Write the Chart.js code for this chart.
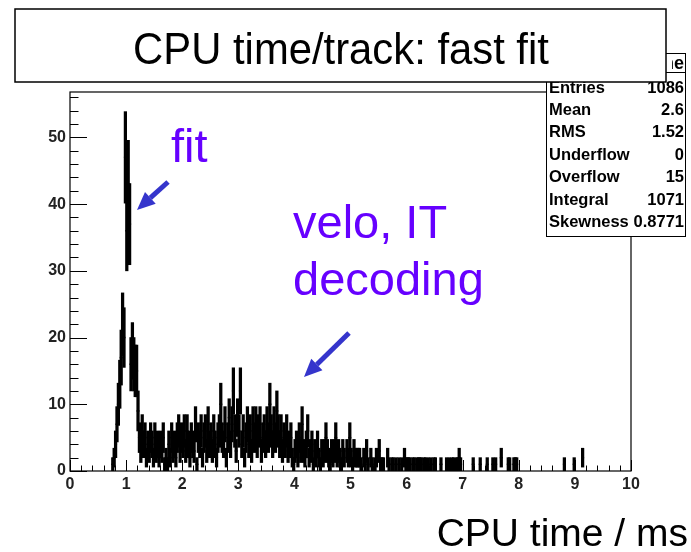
<!DOCTYPE html>
<html>
<head>
<meta charset="utf-8">
<script src="https://cdn.jsdelivr.net/npm/chart.js@4.4.1/dist/chart.umd.min.js"></script>
<style>
  html, body { margin: 0; padding: 0; background: #fff; }
</style>
</head>
<body>
<canvas id="myChart" width="691" height="552"></canvas>
<script>
// CPU time per track, 400 bins of 0.025 ms from 0 to 10 ms (counts per bin)
const binWidth = 0.025;
const counts0to1 = [0,0,0,0,0,0,0,0,0,0, 0,0,0,0,0,0,0,0,0,0, 0,0,0,0,0,0,0,0,0,0, 1,2,4,7,10,13,17,22,20,47];
const counts1to2 = [36,43,37,16,18,16,15,15,9,5, 3,6,4,5,2,4,3,5,4,2, 5,3,4,2,4,3,5,1,2,1, 4,2,5,3,4,2,5,6,3,5];
const counts2to3 = [4,6,3,6,4,2,5,4,3,7, 1,5,4,6,2,5,6,3,7,4, 5,3,6,4,2,5,6,10,5,4, 7,2,5,8,4,7,12,6,3,8];
const counts3to4 = [6,12,4,6,2,5,7,4,6,3, 7,5,7,4,6,7,3,5,6,4, 7,5,10,6,4,7,5,9,6,4, 6,3,5,4,6,3,4,5,2,1];
const counts4to5 = [3,4,2,5,3,7,3,2,4,6, 2,3,4,1,3,2,4,2,1,3, 2,3,5,3,2,1,3,2,3,5, 2,3,2,1,3,2,0,3,2,5];
const counts5to6 = [2,1,3,2,2,2,2,1,0,2, 1,3,1,0,2,1,0,1,2,0, 3,1,1,1,0,0,2,1,0,1, 1,0,1,0,1,0,1,0,2,1];
const counts6to7 = [1,1,1,0,1,1,0,1,1,1, 1,0,1,1,0,1,0,1,0,1, 1,0,0,0,1,0,0,0,1,0, 1,0,1,1,0,1,1,2,1,0];
const counts7to8 = [0,0,0,0,0,0,0,1,0,0, 0,0,1,0,0,0,0,1,0,0, 0,1,0,1,0,0,0,2,0,0, 0,0,1,1,0,0,1,1,1,0];
const counts8to9 = [0,0,0,0,0,0,0,0,0,0, 0,0,0,0,0,0,0,0,0,0, 0,0,0,0,0,0,0,0,0,0, 0,0,1,0,0,0,0,0,0,1];
const counts9to10 = [0,0,0,0,0,2,0,0,0,0, 0,0,0,0,0,0,0,0,0,0, 0,0,0,0,0,0,0,0,0,0, 0,0,0,0,0,0,0,0,0,0];

const xTicks = [0, 1, 2, 3, 4, 5, 6, 7, 8, 9, 10];
const yTicks = [0, 10, 20, 30, 40, 50];
const yMax = 56.8;

const statNames = ['Entries', 'Mean', 'RMS', 'Underflow', 'Overflow', 'Integral', 'Skewness'];
const statValues = ['1086', '2.6', '1.52', '0', '15', '1071', '0.8771'];

const counts = [].concat(counts0to1, counts1to2, counts2to3, counts3to4, counts4to5,
  counts5to6, counts6to7, counts7to8, counts8to9, counts9to10);

// ROOT "E" style: sqrt(n) error bar plus a short mark at the bin content
const errBars = [];
const binMarks = [];
counts.forEach((n, i) => {
  if (n === 0) return;
  const x = (i + 0.5) * binWidth;
  const e = Math.sqrt(n);
  errBars.push({ x: x, y: [n - e, n + e] });
  binMarks.push({ x: x, y: n });
});

const sans = "'Liberation Sans', Arial, Helvetica, sans-serif";

const drawArrow = (ctx, x1, y1, x2, y2) => {
  const ang = Math.atan2(y2 - y1, x2 - x1);
  const head = 18, half = 8;
  const bx = x2 - head * Math.cos(ang), by = y2 - head * Math.sin(ang);
  ctx.strokeStyle = '#3535cc';
  ctx.fillStyle = '#3535cc';
  ctx.lineWidth = 5;
  ctx.beginPath();
  ctx.moveTo(x1, y1);
  ctx.lineTo(bx, by);
  ctx.stroke();
  ctx.beginPath();
  ctx.moveTo(x2, y2);
  ctx.lineTo(bx + half * Math.sin(ang), by - half * Math.cos(ang));
  ctx.lineTo(bx - half * Math.sin(ang), by + half * Math.cos(ang));
  ctx.closePath();
  ctx.fill();
}

const rootLook = {
  id: 'rootLook',
  afterDraw(chart) {
    const ctx = chart.ctx;
    const a = chart.chartArea;
    const xs = chart.scales.x, ys = chart.scales.y;
    ctx.save();

    // frame and inward ticks
    ctx.strokeStyle = '#000';
    ctx.lineWidth = 1.2;
    ctx.strokeRect(a.left, a.top, a.right - a.left, a.bottom - a.top);
    ctx.lineWidth = 1;
    ctx.beginPath();
    for (let k = 0; k * 2 <= ys.max; k++) {
      const y = Math.round(ys.getPixelForValue(k * 2)) + 0.5;
      const len = k % 5 === 0 ? 17 : 8.5;
      ctx.moveTo(a.left, y);
      ctx.lineTo(a.left + len, y);
    }
    for (let k = 0; k <= 50; k++) {
      const x = Math.round(xs.getPixelForValue(k * 0.2)) + 0.5;
      const len = k % 5 === 0 ? 11 : 5.5;
      ctx.moveTo(x, a.bottom);
      ctx.lineTo(x, a.bottom - len);
    }
    ctx.stroke();

    // stats box
    ctx.fillStyle = '#fff';
    ctx.fillRect(546.5, 53.5, 139, 183);
    ctx.strokeRect(546.5, 53.5, 139, 183);
    ctx.beginPath();
    ctx.moveTo(546.5, 72.5);
    ctx.lineTo(685.5, 72.5);
    ctx.stroke();
    ctx.fillStyle = '#000';
    ctx.font = 'bold 18px ' + sans;
    ctx.textAlign = 'right';
    ctx.save();
    ctx.beginPath();
    ctx.rect(672, 50, 16, 22);
    ctx.clip();
    ctx.fillText('htime', 684, 69);
    ctx.restore();
    ctx.font = 'bold 16.5px ' + sans;
    statNames.forEach((name, i) => {
      const y = 92.5 + i * 22.4;
      ctx.textAlign = 'left';
      ctx.fillText(name, 549, y);
      ctx.textAlign = 'right';
      ctx.fillText(statValues[i], 684, y);
    });

    // title box
    ctx.fillStyle = '#fff';
    ctx.fillRect(15, 9, 651, 73);
    ctx.lineWidth = 1.5;
    ctx.strokeRect(15, 9, 651, 73);
    ctx.fillStyle = '#000';
    ctx.font = '44px ' + sans;
    ctx.textAlign = 'center';
    ctx.save();
    ctx.translate(341, 64);
    ctx.scale(0.95, 1);
    ctx.fillText('CPU time/track: fast fit', 0, 0);
    ctx.restore();

    // axis title
    ctx.font = '39px ' + sans;
    ctx.textAlign = 'right';
    ctx.fillText('CPU time / ms', 688, 546);

    // annotations
    ctx.fillStyle = '#6600ff';
    ctx.font = '47px ' + sans;
    ctx.textAlign = 'left';
    ctx.fillText('fit', 171, 162);
    ctx.fillText('velo, IT', 293, 238);
    ctx.fillText('decoding', 293, 295);
    drawArrow(ctx, 168, 182, 137, 210);
    drawArrow(ctx, 349, 333, 304, 377);

    ctx.restore();
  }
};

const tickFont = { family: sans, size: 16, weight: 'bold' };

const config = {
  type: 'bar',
  data: {
    datasets: [
      {
        type: 'bar',
        data: errBars,
        backgroundColor: '#000',
        borderWidth: 0,
        barThickness: 2.6,
        grouped: false
      },
      {
        type: 'scatter',
        data: binMarks,
        pointStyle: 'line',
        pointRadius: 1.5,
        borderColor: '#000',
        borderWidth: 1.5,
        showLine: false
      }
    ]
  },
  options: {
    responsive: false,
    animation: false,
    layout: { padding: { top: 92, right: 60, left: 0, bottom: 0 } },
    plugins: {
      legend: { display: false },
      title: { display: false },
      tooltip: { enabled: false }
    },
    scales: {
      x: {
        type: 'linear',
        min: 0,
        max: 10,
        offset: false,
        grid: { display: false, drawTicks: false },
        border: { display: false },
        afterBuildTicks: s => { s.ticks = xTicks.map(v => ({ value: v })); },
        afterFit: s => { s.height = 81; },
        ticks: { font: tickFont, color: '#222', padding: 4, maxRotation: 0, autoSkip: false }
      },
      y: {
        type: 'linear',
        min: 0,
        max: yMax,
        grid: { display: false, drawTicks: false },
        border: { display: false },
        afterBuildTicks: s => { s.ticks = yTicks.map(v => ({ value: v })); },
        afterFit: s => { s.width = 70; },
        ticks: { font: tickFont, color: '#222', padding: 4 }
      }
    }
  },
  plugins: [rootLook]
};

const graph = new Chart(document.getElementById('myChart'), config);
</script>
</body>
</html>
